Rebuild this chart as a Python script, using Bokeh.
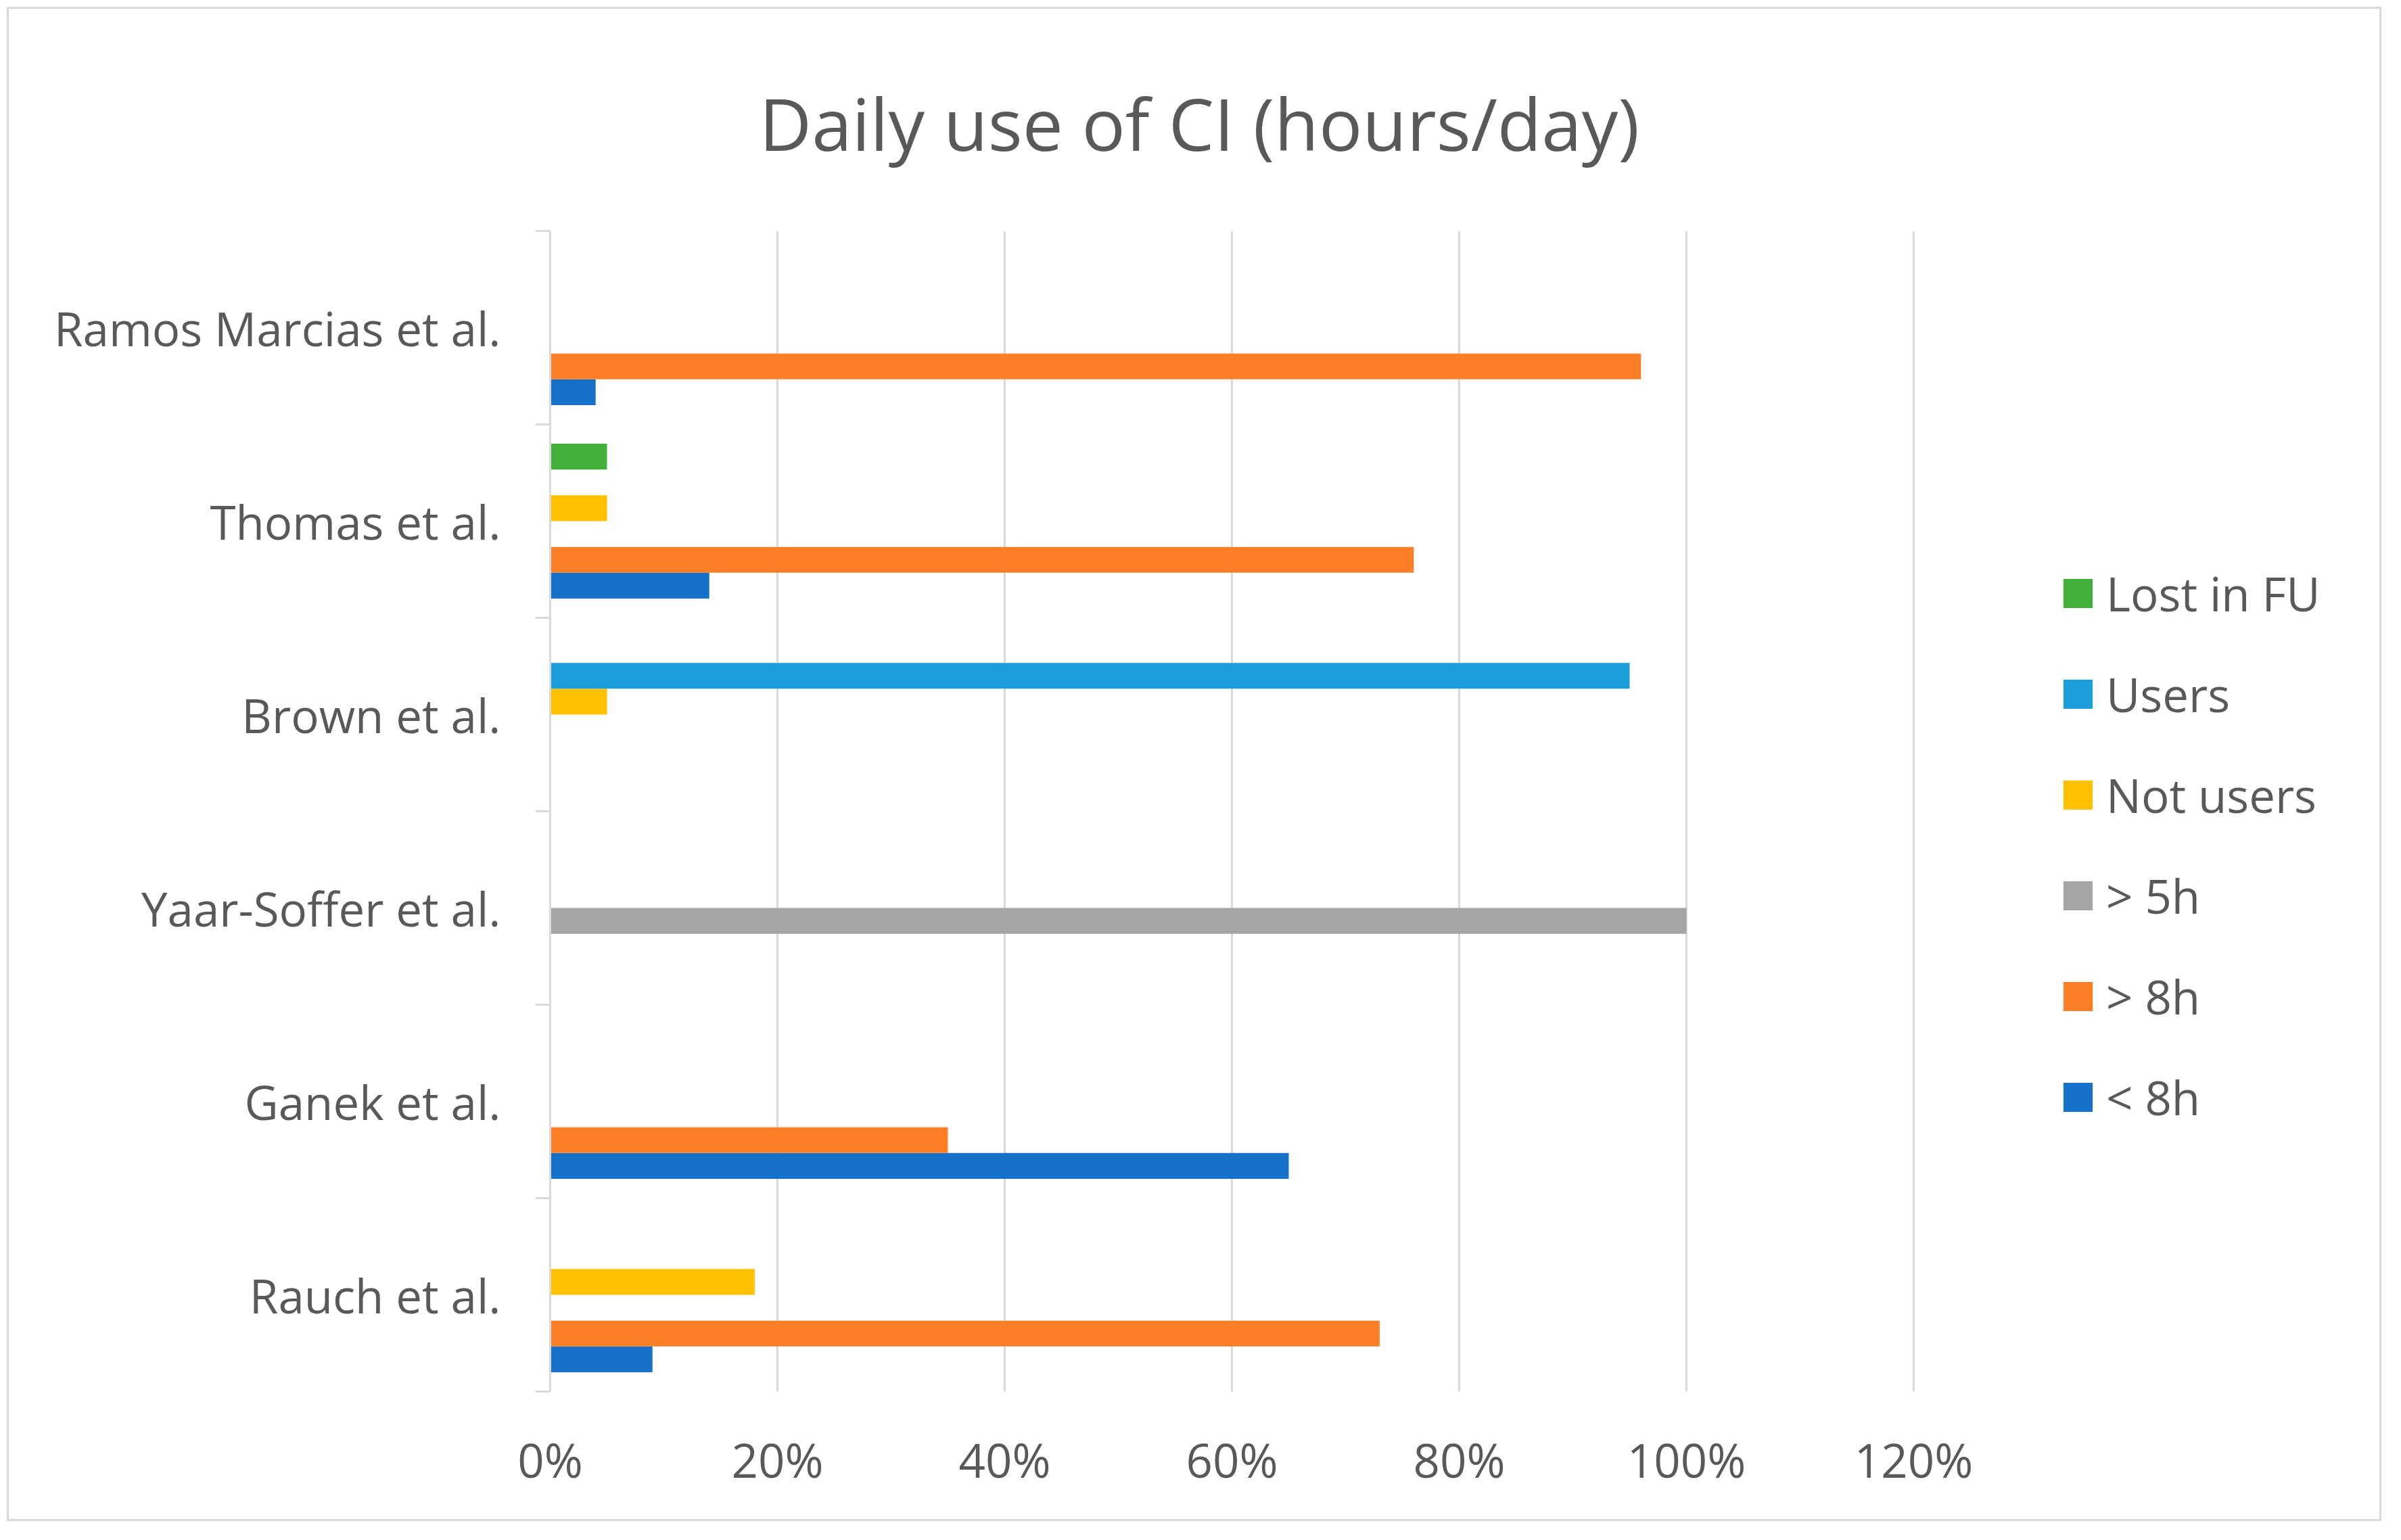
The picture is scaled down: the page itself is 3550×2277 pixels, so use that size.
from bokeh.plotting import figure
from bokeh.models import (FactorRange, Range1d, LinearAxis, CategoricalAxis, FixedTicker,
                          NumeralTickFormatter, Legend, LegendItem, Title, ColumnDataSource,
                          InlineStyleSheet)
from bokeh.transform import dodge
from bokeh.embed import file_html
from bokeh.resources import INLINE

# ---- data ----
studies = ["Rauch et al.", "Ganek et al.", "Yaar-Soffer et al.", "Brown et al.",
           "Thomas et al.", "Ramos Marcias et al."]
series_keys = ["lt8", "gt8", "gt5", "not_users", "users", "lost"]
series_labels = ["< 8h", "> 8h", "> 5h", "Not users", "Users", "Lost in FU"]
lt8 = [0.09, 0.65, 0.00, 0.00, 0.14, 0.04]
gt8 = [0.73, 0.35, 0.00, 0.00, 0.76, 0.96]
gt5 = [0.00, 0.00, 1.00, 0.00, 0.00, 0.00]
not_users = [0.18, 0.00, 0.00, 0.05, 0.05, 0.00]
users = [0.00, 0.00, 0.00, 0.95, 0.00, 0.00]
lost = [0.00, 0.00, 0.00, 0.00, 0.05, 0.00]
x_ticks = [0.0, 0.2, 0.4, 0.6, 0.8, 1.0, 1.2]
colors = ["#1671C9", "#FF7F27", "#A5A5A5", "#FFC000", "#1B9DD9", "#44B03C"]

TXT = "#595959"
GRID = "#D9D9D9"
FONT = "Open Sans"
FS = "69px"

src = ColumnDataSource(data=dict(study=studies, lt8=lt8, gt8=gt8, gt5=gt5,
                                 not_users=not_users, users=users, lost=lost))

# frame extends to the right to host the legend; ticks/grid stop at 120%
p = figure(width=3511, height=2239,
           y_range=FactorRange(factors=studies, range_padding=0),
           x_range=Range1d(0, 1.6),
           y_axis_location=None,
           output_backend="svg", toolbar_location=None,
           min_border_left=800, min_border_right=23,
           min_border_top=328, min_border_bottom=195)
p.stylesheets = [InlineStyleSheet(css=":host { margin-left: 10px !important; "
                                      "margin-top: 10px !important; "
                                      "border: 3px solid #D9D9D9 !important; }")]
p.outline_line_color = None
p.background_fill_color = "white"
p.border_fill_color = "white"

# bars
n = len(series_keys)
bar_h = 1.0 / 7.5
renderers = []
for i, key in enumerate(series_keys):
    off = -0.4 + (i + 0.5) * bar_h
    r = p.hbar(y=dodge("study", off, range=p.y_range), left=0, right=key,
               height=bar_h, fill_color=colors[i], line_color=None, source=src)
    renderers.append(r)

# x axis
xa = p.xaxis[0]
xa.ticker = FixedTicker(ticks=x_ticks)
xa.formatter = NumeralTickFormatter(format="0%")
xa.axis_line_color = None
xa.major_tick_line_color = None
xa.minor_tick_line_color = None
xa.major_label_text_font = FONT
xa.major_label_text_font_size = FS
xa.major_label_text_color = TXT
xa.major_label_standoff = 47

p.xgrid.ticker = FixedTicker(ticks=x_ticks)
p.xgrid.grid_line_color = GRID
p.xgrid.grid_line_width = 3
p.ygrid.grid_line_color = None

# category boundary ticks axis (nearest frame), in synthetic category coords
bounds = list(range(len(studies) + 1))
tick_axis = LinearAxis(ticker=FixedTicker(ticks=bounds),
                       major_label_overrides={i: "" for i in bounds},
                       major_label_text_font_size="1px",
                       major_label_standoff=0,
                       major_tick_out=22, major_tick_in=0,
                       major_tick_line_color=GRID, major_tick_line_width=3,
                       minor_tick_line_color=None,
                       axis_line_color=GRID, axis_line_width=3)
p.add_layout(tick_axis, "left")

cat_axis = CategoricalAxis(major_tick_line_color=None, minor_tick_line_color=None,
                           axis_line_color=None,
                           major_label_text_font=FONT,
                           major_label_text_font_size=FS,
                           major_label_text_color=TXT,
                           major_label_standoff=45)
p.add_layout(cat_axis, "left")

# title
title = Title(text="Daily use of CI (hours/day)", align="left", offset=309,
              text_font=FONT, text_font_size="107px", text_font_style="normal",
              text_color=TXT, standoff=176)
p.add_layout(title, "above")

# legend (inside the widened frame, right of the 120% grid line)
items = [LegendItem(label=series_labels[i], renderers=[renderers[i]])
         for i in reversed(range(n))]
legend = Legend(items=items, location=(2232, 388),
                glyph_width=54, glyph_height=54, label_height=90,
                spacing=55, label_standoff=15, padding=0, margin=0,
                border_line_color=None, background_fill_alpha=0,
                label_text_font=FONT, label_text_font_size=FS,
                label_text_color=TXT)
p.add_layout(legend)

open("out.html", "w").write(file_html(p, INLINE))
